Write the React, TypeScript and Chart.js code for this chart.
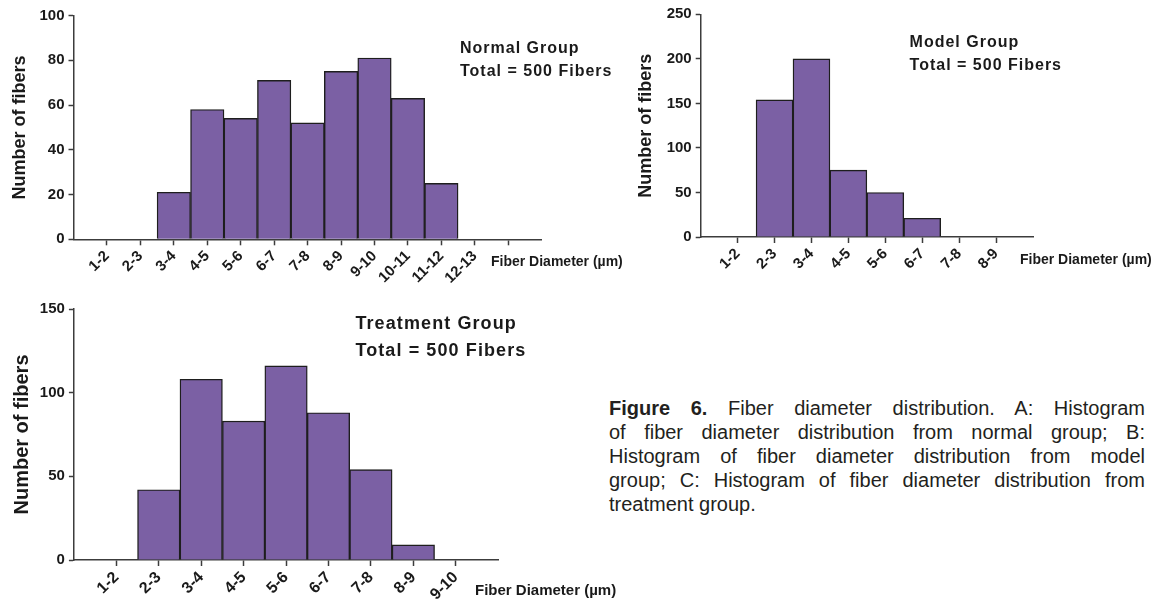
import React, { useEffect, useRef } from "react";
import { Chart, registerables } from "chart.js";
Chart.register(...registerables);

// ---------- data ----------
const normalLabels = ["", "1-2", "2-3", "3-4", "4-5", "5-6", "6-7", "7-8", "8-9", "9-10", "10-11", "11-12", "12-13", "", ""];
const normalCounts = [null, 0, 0, 21, 58, 54, 71, 52, 75, 81, 63, 25, 0, 0, null];

const modelLabels = ["", "1-2", "2-3", "3-4", "4-5", "5-6", "6-7", "7-8", "8-9", ""];
const modelCounts = [null, 0, 154, 200, 75, 50, 21, 0, 0, null];

const treatmentLabels = ["", "1-2", "2-3", "3-4", "4-5", "5-6", "6-7", "7-8", "8-9", "9-10", ""];
const treatmentCounts = [null, 0, 42, 108, 83, 116, 88, 54, 9, 0, null];

const yTitle = "Number of fibers";
const xTitle = "Fiber Diameter (µm)";
const totalText = "Total = 500 Fibers";

const FONT = '"Liberation Sans", Arial, sans-serif';
const AXIS = "#3c3c3c";
const BAR_FILL = "#7b60a4";
const BAR_EDGE = "#1e1e1e";
const TXT = "#1a1a1a";

type PanelProps = {
  labels: string[];
  counts: (number | null)[];
  yMax: number;
  yStep: number;
  left: number;
  top: number;
  W: number;
  H: number;
  L: number;
  T: number;
  R: number;
  B: number;
  titleSize: number;
  titlePad: number;
  xFont: number;
  hidden: number[];
};

function Panel(p: PanelProps) {
  const ref = useRef<HTMLCanvasElement | null>(null);
  useEffect(() => {
    if (!ref.current) return;
    const chart = new Chart(ref.current, {
      type: "bar",
      data: {
        labels: p.labels,
        datasets: [
          {
            data: p.counts as any,
            backgroundColor: BAR_FILL,
            borderColor: BAR_EDGE,
            borderWidth: 1.4,
            borderSkipped: "start",
            categoryPercentage: 1,
            barPercentage: 1,
          },
        ],
      },
      options: {
        responsive: false,
        animation: false,
        devicePixelRatio: 1,
        layout: { padding: { left: 0, top: p.T, right: p.W - p.R, bottom: 0 } },
        plugins: { legend: { display: false }, tooltip: { enabled: false } },
        scales: {
          x: {
            type: "category",
            offset: false,
            grid: {
              display: true,
              drawOnChartArea: false,
              drawTicks: true,
              tickLength: 6,
              offset: false,
              tickWidth: 1.5,
              tickColor: (ctx: any) => (p.hidden.includes(ctx.index) ? "rgba(0,0,0,0)" : AXIS),
            },
            border: { display: true, color: AXIS, width: 1.5 },
            ticks: {
              autoSkip: false,
              minRotation: 45,
              maxRotation: 45,
              color: TXT,
              padding: 2,
              font: { family: FONT, size: p.xFont, weight: "bold" },
            },
            afterFit: (s: any) => {
              s.height = p.H - p.B;
            },
          },
          y: {
            min: 0,
            max: p.yMax,
            ticks: {
              stepSize: p.yStep,
              color: TXT,
              padding: 4,
              font: { family: FONT, size: 15, weight: "bold" },
            },
            grid: { drawOnChartArea: false, drawTicks: true, tickLength: 5, tickColor: AXIS, tickWidth: 1.5 },
            border: { display: true, color: AXIS, width: 1.5 },
            title: {
              display: true,
              text: yTitle,
              color: TXT,
              font: { family: FONT, size: p.titleSize, weight: "bold" },
              padding: { top: p.titlePad, bottom: 0 },
            },
            afterFit: (s: any) => {
              s.width = p.L;
            },
          },
        },
      },
    } as any);
    return () => chart.destroy();
  }, []);
  return (
    <div style={{ position: "absolute", left: p.left, top: p.top, width: p.W, height: p.H }}>
      <canvas ref={ref} width={p.W} height={p.H} style={{ width: p.W, height: p.H, display: "block" }} />
    </div>
  );
}

function Txt(props: { x: number; base: number; fs: number; ls?: number; children: React.ReactNode }) {
  const { x, base, fs, ls } = props;
  return (
    <div
      style={{
        position: "absolute",
        left: x,
        top: base - 0.8465 * fs,
        fontFamily: FONT,
        fontWeight: "bold",
        fontSize: fs,
        lineHeight: `${fs}px`,
        letterSpacing: ls ? `${ls}px` : undefined,
        whiteSpace: "nowrap",
        color: TXT,
      }}
    >
      {props.children}
    </div>
  );
}

const captionLines = [
  "Fiber diameter distribution. A: Histogram",
  "of fiber diameter distribution from normal group; B:",
  "Histogram of fiber diameter distribution from model",
  "group; C: Histogram of fiber diameter distribution from",
  "treatment group.",
];

export default function App() {
  const capFs = 20;
  const capX = 609;
  const capW = 536;
  const capBase0 = 415;
  const capStep = 24;
  return (
    <div style={{ position: "absolute", left: 0, top: 0, width: 1158, height: 613, background: "#fff", overflow: "hidden" }}>
      <Panel
        labels={normalLabels}
        counts={normalCounts}
        yMax={100}
        yStep={20}
        left={0}
        top={0}
        W={570}
        H={295}
        L={73.5}
        T={15.5}
        R={541.7}
        B={239.3}
        titleSize={18}
        titlePad={9.7}
        xFont={15}
        hidden={[0, normalLabels.length - 1]}
      />
      <Panel
        labels={modelLabels}
        counts={modelCounts}
        yMax={250}
        yStep={50}
        left={600}
        top={0}
        W={558}
        H={295}
        L={100.7}
        T={14.3}
        R={433}
        B={237}
        titleSize={18}
        titlePad={35.2}
        xFont={15}
        hidden={[0, modelLabels.length - 1]}
      />
      <Panel
        labels={treatmentLabels}
        counts={treatmentCounts}
        yMax={150}
        yStep={50}
        left={0}
        top={295}
        W={570}
        H={318}
        L={73.9}
        T={14}
        R={498.2}
        B={265}
        titleSize={20}
        titlePad={10}
        xFont={16}
        hidden={[0, treatmentLabels.length - 1]}
      />

      <Txt x={460} base={54} fs={16} ls={1}>Normal Group</Txt>
      <Txt x={460} base={76.7} fs={16} ls={1}>{totalText}</Txt>
      <Txt x={909.6} base={48} fs={16} ls={1}>Model Group</Txt>
      <Txt x={909.6} base={71} fs={16} ls={1}>{totalText}</Txt>
      <Txt x={355.4} base={329.3} fs={18} ls={1.1}>Treatment Group</Txt>
      <Txt x={355.4} base={356} fs={18} ls={1.1}>{totalText}</Txt>

      <Txt x={491} base={265.7} fs={14}>{xTitle}</Txt>
      <Txt x={1020} base={264} fs={14}>{xTitle}</Txt>
      <Txt x={475} base={594.7} fs={15}>{xTitle}</Txt>

      {captionLines.map((line, i) => {
        const last = i === captionLines.length - 1;
        return (
          <div
            key={i}
            style={{
              position: "absolute",
              left: capX,
              top: capBase0 + i * capStep - 0.8465 * capFs,
              width: capW,
              fontFamily: FONT,
              fontSize: capFs,
              lineHeight: `${capFs}px`,
              color: "#231f20",
              textAlign: last ? "left" : "justify",
              textAlignLast: last ? "left" : "justify",
              whiteSpace: "nowrap",
            } as any}
          >
            {i === 0 ? (
              <>
                <b>Figure 6.</b> {line}
              </>
            ) : (
              line
            )}
          </div>
        );
      })}
    </div>
  );
}
